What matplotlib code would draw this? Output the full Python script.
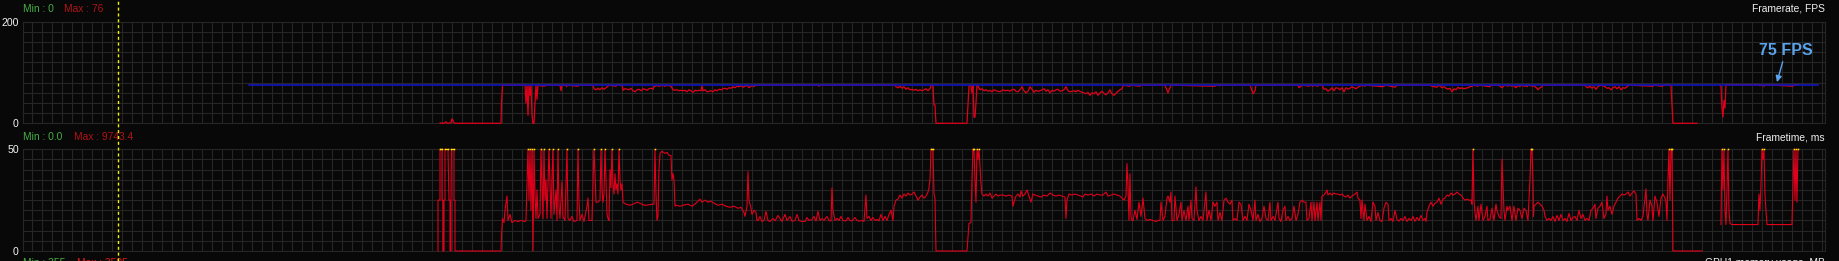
import numpy as np
import matplotlib
matplotlib.use("Agg")
import matplotlib.pyplot as plt
from matplotlib.lines import Line2D
from matplotlib.transforms import blended_transform_factory

# ---------------------------------------------------------
# data (time in samples, framerate in FPS, frametime in ms)
# ---------------------------------------------------------
fps_limit = 75
fps_limit_start, fps_limit_end = 249, 1818
marker_time = 118.3

fps_a = [(440, 0.5), (443, 0), (445, 1), (446, 3), (447, 0), (451, 1), (452, 9), (453, 5), (454, 1), (455, 0),
         (501, 0), (501.5, 38), (502.5, 75), (525, 75), (526, 40), (527, 75), (528, 16), (529, 75), (530, 55),
         (531, 75), (532, 16), (533, 0), (534, 0), (535, 40), (536, 75), (537, 47), (538, 75), (543, 73), (544, 75),
         (545, 73), (546, 75), (560, 75), (561, 64), (562, 75), (566, 75), (566.5, 72), (567, 75), (578, 73),
         (579, 75), (593, 75), (594, 68), (596, 66), (598, 69), (600, 66), (602, 70), (604, 67), (606, 70),
         (608, 73), (609, 75), (616, 73), (617, 75), (622, 75)]
fps_b = [(623, 65), (625, 68), (627, 67), (629, 66), (631, 69), (633, 64), (635, 62), (637, 66), (639, 67),
         (641, 64), (643, 68), (645, 67), (647, 65), (649, 68), (651, 69), (653, 67), (654, 72), (656, 74),
         (660, 73), (662, 75), (665, 73), (667, 75), (669, 74), (671, 73), (673, 66), (675, 65), (677, 66),
         (679, 64), (681, 65), (683, 64), (685, 65), (687, 62), (689, 66), (691, 64), (693, 61), (695, 65),
         (697, 64), (699, 65), (701, 64), (702, 74), (703, 64), (705, 66), (707, 62), (709, 63), (711, 64),
         (713, 62), (715, 66), (717, 64), (719, 67), (721, 66), (723, 68), (725, 69), (727, 67), (729, 70),
         (731, 69), (733, 72), (735, 70), (737, 73), (739, 72), (741, 74), (743, 71), (745, 73), (747, 75),
         (749, 70), (751, 73), (753, 75), (754, 72), (755, 75), (818, 75)]
fps_c = [(819, 73), (820, 75), (895, 75), (896, 72), (898, 70), (900, 73), (902, 69), (904, 72), (906, 67),
         (908, 70), (910, 66), (912, 67), (914, 65), (916, 67), (918, 64), (920, 66), (922, 64), (924, 66),
         (926, 68), (928, 64), (930, 68), (931, 75), (933, 75), (934, 36), (935, 36), (936, 0), (967, 0),
         (968, 36), (969, 73), (970, 75), (971, 73), (972, 60), (973, 75), (974, 12), (975, 12), (976, 40),
         (977, 75), (978, 73), (980, 66), (982, 68), (984, 64), (986, 66), (988, 63), (990, 65), (992, 62),
         (994, 66), (996, 64), (998, 63)]
fps_d = [(1000, 62), (1003, 66), (1005, 64), (1008, 65), (1010, 63), (1012, 66), (1014, 67), (1016, 63),
         (1018, 62), (1020, 66), (1022, 72), (1024, 64), (1026, 60), (1028, 63), (1030, 72), (1032, 67),
         (1034, 61), (1036, 65), (1038, 63), (1040, 64), (1042, 66), (1044, 68), (1046, 63), (1048, 66),
         (1050, 60), (1052, 65), (1054, 63), (1056, 66), (1058, 67), (1060, 63), (1062, 64), (1064, 66),
         (1066, 72), (1068, 64), (1070, 62), (1072, 63), (1074, 64), (1076, 62), (1078, 65), (1080, 63),
         (1082, 61), (1084, 60), (1086, 58), (1088, 61), (1090, 55), (1092, 60), (1094, 58), (1096, 62),
         (1098, 55), (1100, 60), (1102, 63), (1104, 59), (1106, 56), (1108, 60), (1110, 66), (1112, 58),
         (1114, 55), (1116, 59), (1118, 63), (1120, 66), (1122, 68), (1123, 75)]
fps_e = [(1130, 73), (1131, 75), (1140, 73), (1141, 75), (1165, 75), (1166, 70), (1168, 60), (1170, 70),
         (1171, 75), (1215, 73), (1216, 75), (1220, 74), (1221, 75), (1250, 75), (1251, 70), (1253, 58),
         (1255, 64), (1256, 75), (1298, 75), (1299, 70), (1301, 73), (1303, 75), (1309, 73), (1310, 75),
         (1313, 73), (1314, 75), (1318, 73), (1319, 75), (1322, 75), (1324, 67), (1326, 68), (1328, 63),
         (1330, 66), (1332, 70), (1334, 64), (1336, 70), (1338, 69), (1340, 66), (1342, 70), (1344, 62),
         (1346, 70), (1348, 67), (1350, 69), (1352, 72), (1354, 70), (1356, 68), (1358, 71), (1360, 73),
         (1362, 75), (1365, 73), (1366, 75), (1383, 72), (1385, 74), (1386, 75), (1395, 71), (1397, 75),
         (1430, 75), (1432, 73), (1437, 71), (1439, 75), (1442, 70), (1444, 72), (1446, 69), (1448, 67),
         (1450, 69), (1452, 62), (1454, 68), (1456, 66), (1458, 71), (1460, 68), (1462, 70), (1464, 68),
         (1466, 69), (1468, 70), (1470, 72), (1472, 73), (1474, 75), (1478, 73), (1479, 75), (1490, 72),
         (1491, 75)]
fps_f = [(1499, 75), (1500, 73), (1502, 70), (1504, 74), (1505, 75), (1508, 73), (1509, 75), (1512, 73),
         (1513, 75), (1516, 70), (1518, 75), (1520, 72), (1521, 75), (1525, 73), (1526, 75), (1527, 72),
         (1528, 75), (1533, 73), (1534, 75), (1535, 72), (1537, 69), (1538, 66), (1540, 70), (1542, 72),
         (1543, 75), (1585, 75), (1586, 72), (1588, 70), (1590, 73), (1592, 69), (1594, 72), (1596, 67),
         (1598, 72), (1600, 75), (1603, 74), (1605, 72), (1607, 69), (1609, 70), (1611, 66), (1613, 70),
         (1615, 72), (1617, 68), (1619, 72), (1621, 66), (1623, 70), (1625, 69), (1627, 72), (1629, 75),
         (1653, 73), (1654, 75), (1662, 73), (1664, 75), (1671, 75), (1672, 36), (1673, 0), (1697, 0)]
fps_g = [(1720, 75), (1721, 73), (1722, 30), (1723, 12), (1724, 45), (1725, 30), (1726, 75), (1727, 76),
         (1759, 76), (1760, 74), (1761, 76), (1764, 73), (1765, 76), (1793, 73), (1794, 76), (1798, 76)]

ft_a = [(438, 0), (438, 25), (440, 25), (440, 80), (442, 80), (442, 25), (443, 25), (443, 0), (444, 0),
        (444, 25), (445, 25), (445, 80), (448, 80), (449, 25), (450, 25), (450, 0), (451, 0), (451, 25),
        (451.5, 80), (454, 80), (454, 25), (455, 25), (455, 0), (501, 0), (501.5, 7), (502.5, 16), (504, 14),
        (505, 20), (507, 27), (508, 15), (510, 18), (512, 14), (515, 15), (518, 14.5), (521, 15), (525, 14.5),
        (526, 15)]
ft_b = [(527, 33), (528, 80), (529, 25), (530, 80), (531, 20), (532, 80), (533, 0), (534, 80), (535, 28),
        (536, 16), (537, 30), (538, 16), (540, 18), (541, 80), (542, 32), (543, 16), (544, 80), (545, 25),
        (546, 35), (547, 16), (549, 80), (550, 33), (551, 16), (552, 36), (553, 80), (554, 18), (556, 30),
        (557, 15), (558, 80), (559, 22), (560, 16), (562, 34), (563, 17), (565, 15), (567, 80), (568, 16),
        (570, 15), (572, 17), (574, 14.5), (577, 15), (578, 80), (579, 25), (580, 15), (582, 18), (584, 14.5),
        (587, 22), (588, 26), (589, 15), (592, 15), (594, 80), (595, 38), (596, 24), (598, 24), (600, 25),
        (601, 80), (602, 30), (603, 24), (604, 28), (605, 80), (606, 35), (607, 18), (608, 16), (609, 15),
        (610, 40), (611, 31), (612, 80), (613, 33), (614, 28), (615, 38), (616, 30), (617, 33), (618, 28),
        (619, 80), (620, 35), (621, 30), (622, 33), (623, 24), (626, 23)]
ft_c = [(630, 22.5), (633, 23), (637, 24), (640, 23.5), (644, 22.5), (648, 22.6), (652, 23), (654, 23),
        (655, 80), (656, 28), (657, 15), (658, 17), (659, 40), (660, 48), (662, 49), (665, 48), (667, 48.5),
        (669, 47), (671, 47), (672, 35), (673, 38), (674, 35), (675, 22), (676, 22.5), (680, 22), (684, 22.6),
        (688, 23), (692, 22), (696, 23.5), (700, 25.5), (702, 24), (705, 25), (708, 24), (711, 24.5),
        (714, 23.5), (718, 22.5), (722, 23), (726, 22), (730, 21.5), (734, 22), (738, 21), (741, 21.5),
        (744, 19), (745, 17), (747, 22), (748, 39), (749, 25), (751, 21), (752, 18), (754, 20), (756, 19),
        (757, 15)]
ft_d = [(758, 15), (760, 17), (762, 14.5), (764, 15), (766, 19.5), (768, 15), (770, 14.5), (773, 16),
        (775, 14.8), (778, 17.5), (780, 16), (782, 14.5), (785, 18), (787, 15), (790, 17), (792, 14.6),
        (795, 15), (797, 18), (799, 15), (802, 14.5), (805, 14.5), (807, 16.5), (809, 15), (812, 15.5),
        (814, 17), (816, 14.7), (818, 19.5), (820, 15), (822, 16), (824, 15), (827, 17), (829, 15),
        (831, 14.8), (832, 31), (833, 20), (835, 15), (837, 16), (839, 15), (841, 17), (843, 15), (846, 14.8),
        (848, 16.5), (850, 15), (852, 14.8), (855, 16.5), (857, 15), (859, 14.7), (862, 15), (864, 14.5),
        (866, 27.5), (867, 16), (869, 17), (871, 15), (873, 16.5), (875, 15), (877, 15.5), (879, 14.8),
        (881, 18), (883, 15), (885, 17), (887, 15), (889, 18), (891, 20), (893, 15)]
ft_e = [(894, 22), (896, 25), (898, 25.5), (900, 27.5), (902, 26), (904, 28), (906, 27), (908, 28.5),
        (910, 27.5), (912, 28), (914, 29), (916, 27), (918, 25), (920, 26.5), (922, 27.5), (924, 26),
        (926, 27), (928, 29), (929, 31), (930, 35), (931, 80), (933, 80), (934, 28), (935, 26), (936, 0),
        (967, 0), (968, 7), (969, 13.5), (971, 14), (972, 35), (973, 80), (974, 80), (975, 35), (976, 24),
        (977, 80), (978, 45), (979, 80), (980, 42), (981, 33), (982, 28), (984, 27), (986, 28), (988, 27),
        (990, 28.5), (992, 26), (994, 27), (996, 28), (998, 27), (1000, 27.5)]
ft_f = [(1003, 27.5), (1006, 27), (1009, 27.5), (1012, 27), (1013, 22), (1014, 24), (1016, 27), (1018, 28),
        (1020, 26.5), (1021, 29.5), (1023, 27), (1025, 28), (1027, 30), (1029, 27), (1031, 24), (1033, 28),
        (1035, 27.5), (1038, 27), (1041, 26.5), (1044, 27.5), (1047, 27), (1050, 28.5), (1053, 27.5),
        (1056, 27), (1059, 27.5), (1062, 27), (1065, 26.5), (1066, 16), (1067, 25), (1069, 28), (1072, 27.5),
        (1075, 28), (1078, 27.5), (1081, 27), (1083, 26.5), (1085, 28), (1088, 27.5), (1091, 28), (1094, 27),
        (1097, 28), (1100, 27.5), (1103, 27.5), (1106, 29), (1108, 27), (1111, 27.5), (1114, 28),
        (1117, 27.5), (1120, 27), (1122, 26), (1124, 25), (1126, 27), (1127, 43), (1128, 32), (1129, 15),
        (1130, 38), (1131, 17), (1132, 15), (1133, 15), (1135, 20), (1137, 15.5), (1139, 24), (1141, 17),
        (1143, 26), (1145, 16), (1147, 15), (1150, 15.5), (1153, 15), (1156, 14.5), (1158, 15)]
ft_g = [(1160, 15), (1161, 24), (1163, 15), (1165, 17), (1167, 26), (1168, 27), (1170, 24), (1171, 29),
        (1172, 15), (1174, 15), (1175, 27), (1177, 15), (1179, 18), (1181, 24), (1182, 15), (1184, 20),
        (1186, 15), (1188, 22), (1189, 15), (1191, 25), (1192, 16), (1194, 15), (1196, 31.5), (1197, 20),
        (1199, 15), (1201, 17), (1203, 15), (1206, 29), (1207, 15), (1209, 20), (1211, 15), (1213, 24),
        (1215, 22), (1217, 24), (1218, 15), (1220, 19), (1222, 15), (1224, 25), (1226, 26), (1228, 24),
        (1230, 23), (1232, 25), (1233, 15), (1235, 16), (1237, 15), (1239, 24), (1241, 23), (1243, 15),
        (1245, 17), (1247, 15), (1249, 23), (1251, 20), (1253, 15), (1255, 25), (1256, 15), (1258, 18),
        (1260, 14.5), (1262, 16), (1264, 22), (1266, 16), (1268, 15), (1270, 24), (1271, 15), (1273, 17),
        (1275, 15), (1278, 24), (1279, 16), (1281, 14.5), (1283, 20), (1285, 22), (1286, 15), (1288, 17),
        (1290, 15), (1292, 16), (1294, 22), (1296, 15), (1298, 18), (1300, 24), (1302, 25), (1304, 24),
        (1306, 24), (1307, 15), (1309, 16), (1311, 24), (1312, 15), (1314, 24), (1315, 15), (1317, 24),
        (1318, 15), (1320, 24)]
ft_h = [(1321, 15), (1322, 27), (1324, 27.5), (1326, 29), (1327, 30), (1328, 27.5), (1330, 28.5), (1332, 27.5),
        (1334, 28.5), (1336, 28), (1338, 28), (1340, 27.5), (1342, 28), (1344, 27), (1346, 26.5),
        (1348, 27.5), (1350, 26), (1352, 27), (1355, 28), (1357, 29), (1358, 26), (1360, 25), (1361, 16),
        (1362, 25), (1364, 15), (1365, 23), (1367, 15), (1369, 17), (1371, 14.5), (1373, 24), (1375, 22),
        (1376, 15), (1378, 19), (1380, 15), (1382, 14.5), (1384, 21), (1386, 24), (1388, 23), (1389, 15),
        (1391, 16), (1393, 14.5), (1395, 20), (1397, 15.5), (1399, 14.7), (1401, 16), (1403, 15), (1405, 17),
        (1407, 14.5), (1409, 16), (1411, 15), (1413, 17), (1415, 14.6), (1417, 16.5), (1419, 15),
        (1421, 17.5), (1423, 15), (1425, 16), (1426, 14.5), (1427, 19), (1429, 22), (1431, 24), (1433, 22),
        (1435, 23.5), (1437, 24), (1439, 26), (1441, 23), (1443, 25.5), (1445, 26), (1447, 27.5), (1449, 27),
        (1451, 28.5), (1453, 27.5), (1455, 28), (1457, 29), (1459, 28), (1461, 27.5), (1463, 26), (1465, 25),
        (1467, 25.5), (1469, 25), (1471, 25), (1472, 23), (1473, 80), (1474, 25), (1475, 19), (1476, 15),
        (1478, 22), (1479, 15), (1481, 23), (1483, 15), (1485, 17), (1487, 22), (1488, 15), (1490, 15.5),
        (1492, 21), (1494, 15), (1496, 23), (1497, 20), (1499, 17), (1501, 16), (1502, 45), (1503, 33),
        (1504, 20), (1505, 15), (1507, 22), (1508, 20), (1510, 22), (1512, 15), (1514, 22), (1516, 15),
        (1518, 21)]
ft_i = [(1520, 20), (1522, 16), (1524, 21), (1526, 20), (1528, 15), (1530, 35), (1531, 80), (1532, 80),
        (1533, 35), (1533.5, 17), (1534, 22), (1536, 23), (1538, 24), (1540, 23), (1542, 22), (1544, 20),
        (1545, 17), (1547, 15), (1549, 16), (1551, 15), (1553, 17), (1555, 14.5), (1557, 17.5), (1559, 15),
        (1561, 18), (1563, 15), (1565, 16), (1567, 14.5), (1569, 18.5), (1571, 15), (1573, 16.5), (1575, 17),
        (1577, 15), (1579, 20), (1581, 16), (1583, 18), (1585, 15), (1587, 16), (1589, 15), (1591, 20),
        (1593, 21), (1595, 23), (1596, 16), (1598, 21), (1600, 22), (1602, 24), (1604, 16), (1606, 18),
        (1607, 27), (1608, 20), (1610, 22), (1612, 18), (1614, 22), (1616, 24), (1618, 26), (1620, 27),
        (1622, 28), (1624, 27.5), (1626, 28), (1628, 29), (1630, 27), (1632, 28.5), (1634, 29.5), (1636, 28),
        (1637, 15), (1639, 16), (1641, 15), (1643, 17), (1645, 26), (1646, 30.5), (1647, 18), (1648, 15),
        (1650, 25), (1652, 22), (1653, 15), (1655, 27), (1657, 24), (1659, 17), (1661, 26), (1663, 28),
        (1665, 26), (1666, 24), (1667, 15), (1668, 35), (1669, 80), (1670, 25), (1671, 80), (1672, 80),
        (1673, 0), (1702, 0)]
ft_j = [(1721, 13), (1722, 80), (1723, 30), (1724, 80), (1725, 20), (1726, 13), (1727, 30), (1728, 80),
        (1729, 20), (1730, 13.5), (1732, 13), (1758, 13), (1759, 28), (1760, 20), (1761, 32), (1762, 80),
        (1763, 45), (1764, 80), (1765, 28), (1766, 20), (1767, 13), (1792, 13), (1793, 32), (1794, 80),
        (1795, 25), (1796, 80), (1797, 24), (1798, 80)]

fps_runs = [fps_a + fps_b + fps_c + fps_d + fps_e + fps_f, fps_g]
ft_runs = [ft_a + ft_b + ft_c + ft_d + ft_e + ft_f + ft_g + ft_h + ft_i, ft_j]

# ---------------------------------------------------------
# styling
# ---------------------------------------------------------
BG = '#080808'
GRID = '#262626'
RED = '#e0001a'
BLUE = '#1414c0'
FONT = 'Liberation Sans'


def join_runs(runs):
    t, v = [], []
    for run in runs:
        arr = np.array(run, dtype=float)
        t.extend(arr[:, 0]); v.extend(arr[:, 1])
        t.append(np.nan); v.append(np.nan)
    return np.array(t), np.array(v)


def style_panel(ax, ymax):
    ax.set_facecolor(BG)
    ax.set_xlim(23.3, 1825)
    ax.set_ylim(0, ymax)
    ax.set_xticks([])
    ax.set_xticks(np.arange(32.3, 1825, 9.996), minor=True)
    ax.set_yticks([0, ymax])
    ax.set_yticks(np.linspace(0, ymax, 11)[1:-1], minor=True)
    ax.grid(which='both', color=GRID, lw=0.8)
    ax.tick_params(which='both', length=0, pad=3.2, labelcolor='#f2f2f2', labelsize=7.6)
    for lab in ax.get_yticklabels():
        lab.set_fontfamily(FONT)
    for sp in ax.spines.values():
        sp.set_color(GRID)
        sp.set_linewidth(0.8)
    ax.set_axisbelow(True)


fig = plt.figure(figsize=(18.39, 2.61), dpi=100, facecolor=BG)
ax_fps = fig.add_axes([0.01267, 0.5276, 0.9797, 0.3893])
ax_ft = fig.add_axes([0.01267, 0.0383, 0.9797, 0.3897])
style_panel(ax_fps, 200)
style_panel(ax_ft, 50)

# framerate
t, v = join_runs(fps_runs)
ax_fps.plot(t, v, color=RED, lw=0.9, clip_on=False, zorder=3)
ax_fps.plot([fps_limit_start, fps_limit_end], [fps_limit, fps_limit], color=BLUE, lw=1.2, zorder=4)

ax_fps.annotate('75 FPS', xy=(1777, 81), xytext=(1786, 144), textcoords='data',
                ha='center', va='center', fontsize=11.5, fontweight='bold', family=FONT,
                color='#5aa2ea', annotation_clip=False,
                arrowprops=dict(arrowstyle='-|>', color='#5aa2ea', lw=1.0, mutation_scale=9,
                                shrinkA=1, shrinkB=0), zorder=6)

# frametime, clipped at the top of the graph with yellow marks
t, v = join_runs(ft_runs)
ax_ft.plot(t, np.minimum(v, 50), color=RED, lw=0.8, clip_on=False, zorder=3)
top = np.where(v >= 50, 50.0, np.nan)
ax_ft.plot(t, top, color='#ffe800', lw=0.8, marker='s', ms=1.1, mew=0, clip_on=False, zorder=4)

# yellow dashed time marker through both graphs
trans = blended_transform_factory(ax_fps.transData, fig.transFigure)
fig.add_artist(Line2D([marker_time, marker_time], [0, 1], transform=trans, color='#f2f200',
                      lw=1.0, ls=(0, (2.2, 2.0)), zorder=10))

# header texts (the bottom row is cut off by the figure edge, as in the original capture)
txt = dict(fontsize=7.4, family=FONT, va='baseline')
fig.text(0.01267, 0.9552, 'Min : 0', color='#45ad45', **txt)
fig.text(0.0350, 0.9552, 'Max : 76', color='#b01414', **txt)
fig.text(0.9924, 0.9552, 'Framerate, FPS', color='#eeeeee', ha='right', **txt)
fig.text(0.01267, 0.4636, 'Min : 0.0', color='#45ad45', **txt)
fig.text(0.0402, 0.4636, 'Max : 9743.4', color='#b01414', **txt)
fig.text(0.9924, 0.4636, 'Frametime, ms', color='#eeeeee', ha='right', **txt)
fig.text(0.01267, -0.0184, 'Min : 355', color='#45ad45', **txt)
fig.text(0.0419, -0.0184, 'Max : 3505', color='#e01414', **txt)
fig.text(0.9924, -0.0184, 'GPU1 memory usage, MB', color='#eeeeee', ha='right', **txt)

fig.savefig('out.png', dpi=100, facecolor=BG)
